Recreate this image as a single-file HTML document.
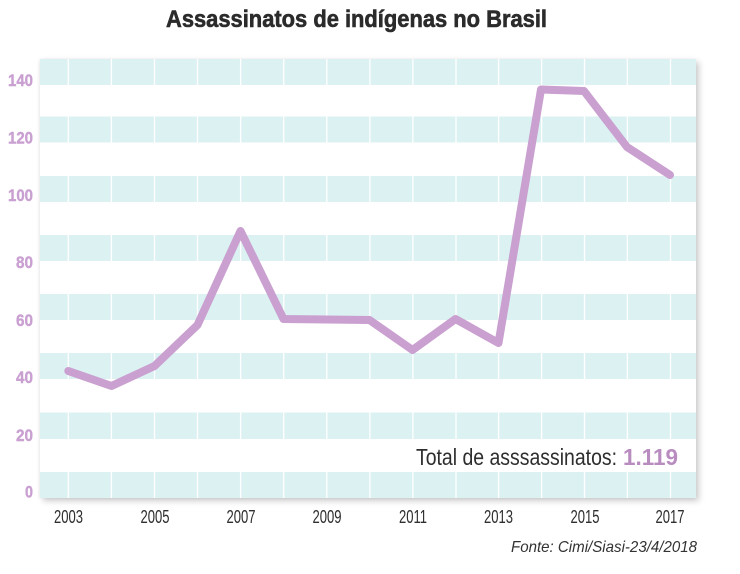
<!DOCTYPE html>
<html>
<head>
<meta charset="utf-8">
<style>
  html,body{margin:0;padding:0;background:#ffffff;}
  #wrap{position:relative;width:740px;height:574px;overflow:hidden;background:#fff;}
  #plotbg{position:absolute;left:40px;top:59px;width:656px;height:439px;background:#fff;box-shadow:3px 3px 6px rgba(0,0,0,0.20), -1px 0 3px rgba(0,0,0,0.06);}
  svg{position:absolute;left:0;top:0;}
  text{font-family:"Liberation Sans Narrow","Liberation Sans",sans-serif;}
</style>
</head>
<body>
<div id="wrap">
  <div id="plotbg"></div>
  <svg width="740" height="574" viewBox="0 0 740 574" xmlns="http://www.w3.org/2000/svg">
    <!-- title -->
    <text x="166" y="27" font-size="24" font-weight="bold" fill="#2b2b2b" stroke="#2b2b2b" stroke-width="0.6" textLength="381" lengthAdjust="spacingAndGlyphs">Assassinatos de indígenas no Brasil</text>

    <!-- teal bands -->
    <g fill="#dcf1f2">
      <rect x="40" y="59" width="656" height="26"/>
      <rect x="40" y="116.5" width="656" height="26"/>
      <rect x="40" y="176" width="656" height="26"/>
      <rect x="40" y="235" width="656" height="26"/>
      <rect x="40" y="294" width="656" height="26"/>
      <rect x="40" y="353" width="656" height="26"/>
      <rect x="40" y="412.5" width="656" height="26.5"/>
      <rect x="40" y="472" width="656" height="26"/>
    </g>
    <!-- vertical white lines -->
    <g stroke="#ffffff" stroke-width="1.3">
      <line x1="68.3" y1="59" x2="68.3" y2="498"/>
      <line x1="111.4" y1="59" x2="111.4" y2="498"/>
      <line x1="154.5" y1="59" x2="154.5" y2="498"/>
      <line x1="197.5" y1="59" x2="197.5" y2="498"/>
      <line x1="240.6" y1="59" x2="240.6" y2="498"/>
      <line x1="283.7" y1="59" x2="283.7" y2="498"/>
      <line x1="326.8" y1="59" x2="326.8" y2="498"/>
      <line x1="369.9" y1="59" x2="369.9" y2="498"/>
      <line x1="412.9" y1="59" x2="412.9" y2="498"/>
      <line x1="456" y1="59" x2="456" y2="498"/>
      <line x1="498.6" y1="59" x2="498.6" y2="498"/>
      <line x1="541.6" y1="59" x2="541.6" y2="498"/>
      <line x1="584.5" y1="59" x2="584.5" y2="498"/>
      <line x1="627.4" y1="59" x2="627.4" y2="498"/>
      <line x1="670.5" y1="59" x2="670.5" y2="498"/>
    </g>

    <!-- y labels -->
    <g font-size="17" font-weight="bold" fill="#c9a0d1" stroke="#c9a0d1" stroke-width="0.4" text-anchor="end">
      <text x="33" y="86" textLength="25" lengthAdjust="spacingAndGlyphs">140</text>
      <text x="33" y="143.5" textLength="25" lengthAdjust="spacingAndGlyphs">120</text>
      <text x="33" y="201" textLength="25" lengthAdjust="spacingAndGlyphs">100</text>
      <text x="33" y="268" textLength="17" lengthAdjust="spacingAndGlyphs">80</text>
      <text x="33" y="326" textLength="17" lengthAdjust="spacingAndGlyphs">60</text>
      <text x="33" y="383" textLength="17" lengthAdjust="spacingAndGlyphs">40</text>
      <text x="33" y="441" textLength="17" lengthAdjust="spacingAndGlyphs">20</text>
      <text x="33" y="497.5" textLength="8" lengthAdjust="spacingAndGlyphs">0</text>
    </g>

    <!-- x labels -->
    <g font-size="18.5" fill="#2e2e2e" text-anchor="middle">
      <text x="68.5" y="523" textLength="29" lengthAdjust="spacingAndGlyphs">2003</text>
      <text x="155" y="523" textLength="29" lengthAdjust="spacingAndGlyphs">2005</text>
      <text x="241" y="523" textLength="29" lengthAdjust="spacingAndGlyphs">2007</text>
      <text x="327" y="523" textLength="29" lengthAdjust="spacingAndGlyphs">2009</text>
      <text x="413" y="523" textLength="28" lengthAdjust="spacingAndGlyphs">2011</text>
      <text x="498.5" y="523" textLength="29" lengthAdjust="spacingAndGlyphs">2013</text>
      <text x="585" y="523" textLength="29" lengthAdjust="spacingAndGlyphs">2015</text>
      <text x="670" y="523" textLength="29" lengthAdjust="spacingAndGlyphs">2017</text>
    </g>

    <!-- data line -->
    <polyline fill="none" stroke="#c9a0cf" stroke-width="8" stroke-linecap="round" stroke-linejoin="round"
      points="68.3,371 111.5,386 154.5,366 197.5,325 240.5,231 283.5,319 326.5,319.5 369.5,320 412.5,350 455.5,319 498.5,343 541,89.5 584,91 627,147 670,175"/>

    <!-- total -->
    <text x="416" y="465" font-size="23" fill="#2e2e2e" textLength="201" lengthAdjust="spacingAndGlyphs">Total de asssassinatos:</text>
    <text x="623" y="465" font-size="23" font-weight="bold" fill="#b98cc0" textLength="55" lengthAdjust="spacingAndGlyphs">1.119</text>

    <!-- source -->
    <text x="511" y="552" font-family="Liberation Sans, sans-serif" font-size="16" font-style="italic" fill="#333333" textLength="186" lengthAdjust="spacingAndGlyphs">Fonte: Cimi/Siasi-23/4/2018</text>
  </svg>
</div>
</body>
</html>
